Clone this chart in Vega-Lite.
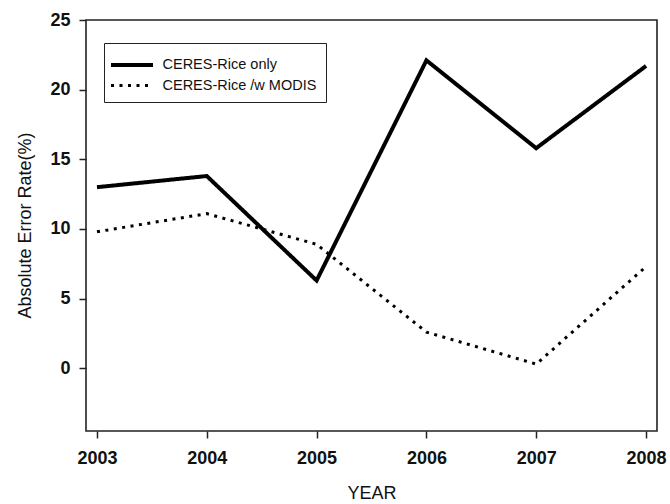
{
  "$schema": "https://vega.github.io/schema/vega-lite/v6.json",
  "width": 571,
  "height": 411,
  "autosize": {"type": "none"},
  "padding": {"left": 86, "top": 20, "right": 13, "bottom": 73},
  "background": "white",
  "config": {
    "view": {"stroke": "#222", "strokeWidth": 1.6},
    "font": "Liberation Sans"
  },
  "data": {
    "values": [
      {"year": 2003, "series": "CERES-Rice only", "rate": 13.0},
      {"year": 2004, "series": "CERES-Rice only", "rate": 13.8},
      {"year": 2005, "series": "CERES-Rice only", "rate": 6.3},
      {"year": 2006, "series": "CERES-Rice only", "rate": 22.1},
      {"year": 2007, "series": "CERES-Rice only", "rate": 15.8},
      {"year": 2008, "series": "CERES-Rice only", "rate": 21.7},
      {"year": 2003, "series": "CERES-Rice /w MODIS", "rate": 9.8},
      {"year": 2004, "series": "CERES-Rice /w MODIS", "rate": 11.1},
      {"year": 2005, "series": "CERES-Rice /w MODIS", "rate": 8.9},
      {"year": 2006, "series": "CERES-Rice /w MODIS", "rate": 2.6},
      {"year": 2007, "series": "CERES-Rice /w MODIS", "rate": 0.3},
      {"year": 2008, "series": "CERES-Rice /w MODIS", "rate": 7.3}
    ]
  },
  "mark": {"type": "line", "color": "black", "strokeCap": "butt", "strokeJoin": "miter"},
  "encoding": {
    "x": {
      "field": "year",
      "type": "quantitative",
      "scale": {"domain": [2002.9, 2008.1], "nice": false, "zero": false},
      "axis": {
        "title": "YEAR",
        "values": [2003, 2004, 2005, 2006, 2007, 2008],
        "format": "d",
        "grid": false,
        "domain": false,
        "tickColor": "#222",
        "tickWidth": 1.5,
        "tickSize": 7,
        "labelFont": "Liberation Sans",
        "labelFontWeight": "bold",
        "labelFontSize": 18,
        "labelColor": "#111",
        "labelPadding": 11,
        "titleFont": "Liberation Sans",
        "titleFontWeight": "normal",
        "titleFontSize": 18,
        "titleColor": "#111",
        "titleY": 62,
        "titleBaseline": "middle"
      }
    },
    "y": {
      "field": "rate",
      "type": "quantitative",
      "scale": {"domain": [-4.5, 25], "nice": false, "zero": false},
      "axis": {
        "title": "Absolute Error Rate(%)",
        "values": [0, 5, 10, 15, 20, 25],
        "grid": false,
        "domain": false,
        "tickColor": "#222",
        "tickWidth": 1.5,
        "tickSize": 7,
        "labelFont": "Liberation Sans",
        "labelFontWeight": "bold",
        "labelFontSize": 18,
        "labelColor": "#111",
        "labelPadding": 9,
        "titleFont": "Liberation Sans",
        "titleFontWeight": "normal",
        "titleFontSize": 18,
        "titleColor": "#111",
        "titleX": -61,
        "titleY": 205,
        "titleAngle": 270,
        "titleAlign": "center",
        "titleBaseline": "middle"
      }
    },
    "strokeDash": {
      "field": "series",
      "type": "nominal",
      "scale": {
        "domain": ["CERES-Rice only", "CERES-Rice /w MODIS"],
        "range": [[1, 0], [3, 5.5]]
      },
      "legend": {
        "title": null,
        "orient": "none",
        "legendX": 18,
        "legendY": 23,
        "padding": 9.5,
        "strokeColor": "#222",
        "fillColor": "white",
        "symbolType": "M-2,0H2",
        "symbolSize": 441,
        "symbolOffset": 6,
        "symbolStrokeColor": "black",
        "symbolStrokeWidth": 3.5,
        "labelFont": "Liberation Sans",
        "labelFontSize": 14.5,
        "labelColor": "#111",
        "labelOffset": 18,
        "rowPadding": -1,
        "labelLimit": 300
      }
    },
    "strokeWidth": {
      "field": "series",
      "type": "nominal",
      "scale": {
        "domain": ["CERES-Rice only", "CERES-Rice /w MODIS"],
        "range": [4, 3]
      },
      "legend": null
    }
  }
}
